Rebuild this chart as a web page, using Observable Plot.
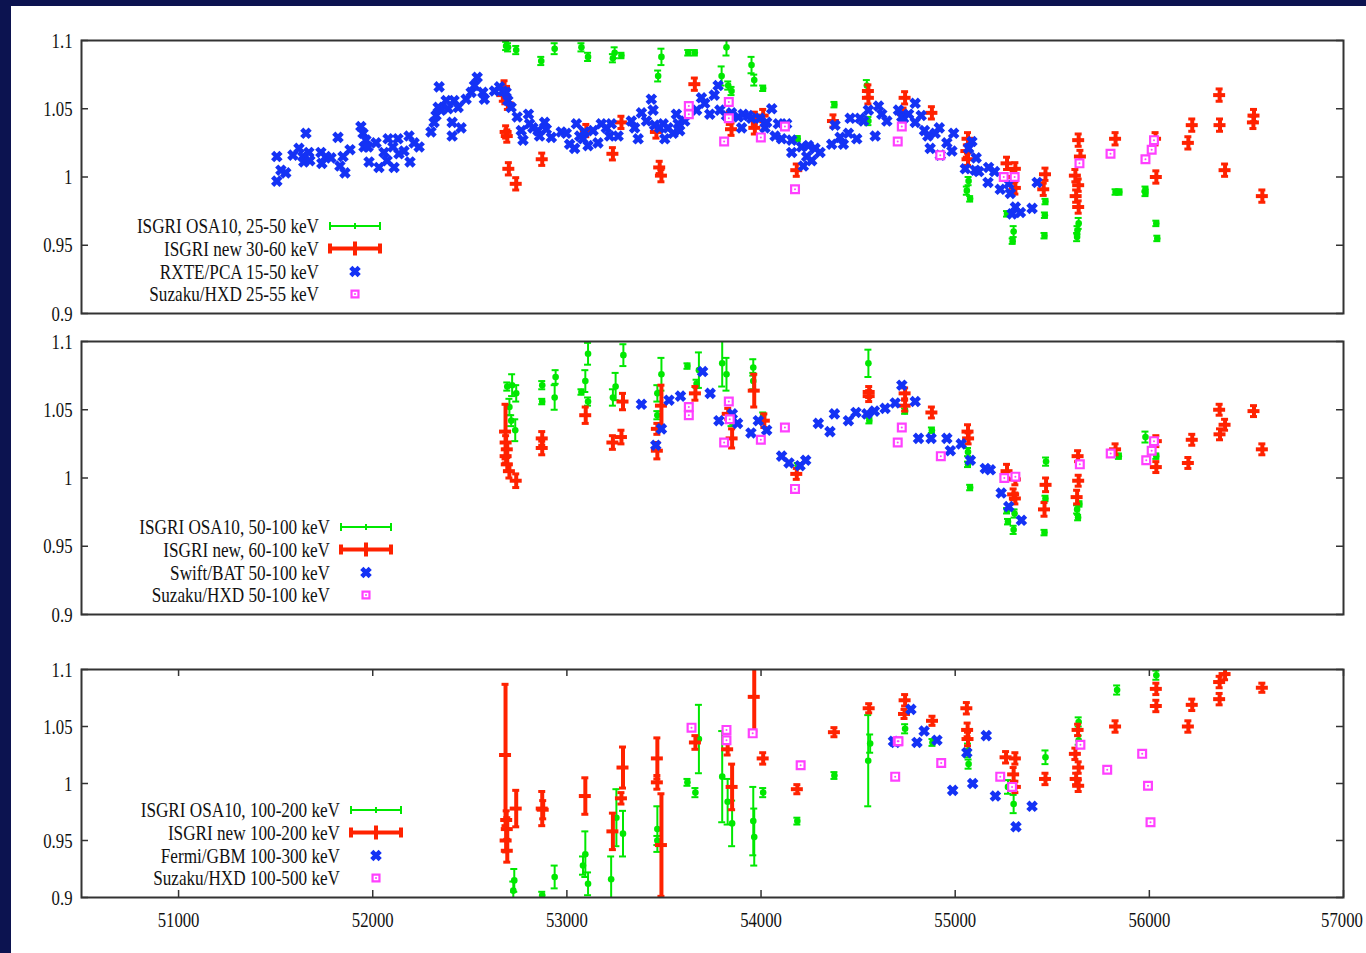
<!DOCTYPE html>
<html>
<head>
<meta charset="utf-8">
<script src="https://cdn.jsdelivr.net/npm/d3@7"></script>
<script src="https://cdn.jsdelivr.net/npm/@observablehq/plot@0.6"></script>
<style>
  html, body { margin: 0; padding: 0; }
  body { width: 1366px; height: 953px; background: #0c1350; position: relative; overflow: hidden; }
  #paper { position: absolute; left: 11px; top: 6px; right: 0; bottom: 0; background: #ffffff; }
  .panel { position: absolute; left: 0; }
  .panel svg { background: transparent !important; overflow: visible; }
</style>
</head>
<body>
<div id="paper"></div>
<div id="p1" class="panel" style="top:0px"></div>
<div id="p2" class="panel" style="top:320px"></div>
<div id="p3" class="panel" style="top:620px"></div>
<script>
// ---------------- data (MJD, ratio[, error]) ----------------
const xDomain = [50500, 57000];
const yDomain = [0.9, 1.1];
const xTicks = [51000, 52000, 53000, 54000, 55000, 56000, 57000];
const xTickLabels = ["51000", "52000", "53000", "54000", "55000", "56000", "57000"];
const yTicks = [0.9, 0.95, 1, 1.05, 1.1];
const yTickLabels = ["0.9", "0.95", "1", "1.05", "1.1"];

const legend1 = ["ISGRI OSA10, 25-50 keV", "ISGRI new 30-60 keV", "RXTE/PCA 15-50 keV", "Suzaku/HXD 25-55 keV"];
const legend2 = ["ISGRI OSA10, 50-100 keV", "ISGRI new, 60-100 keV", "Swift/BAT 50-100 keV", "Suzaku/HXD 50-100 keV"];
const legend3 = ["ISGRI OSA10, 100-200 keV", "ISGRI new 100-200 keV", "Fermi/GBM 100-300 keV", "Suzaku/HXD 100-500 keV"];

// Panel 1
const osa10_25_50 = [[52687,1.096,0.003],[52697,1.095,0.003],[52739,1.093,0.003],[52868,1.085,0.003],[52937,1.094,0.004],[53075,1.095,0.003],[53109,1.088,0.003],[53237,1.087,0.003],[53246,1.091,0.004],[53281,1.089,0.002],[53487,1.088,0.006],[53470,1.074,0.004],[53625,1.091,0.002],[53659,1.091,0.002],[53822,1.095,0.006],[53797,1.074,0.007],[53831,1.067,0.003],[53848,1.063,0.003],[53951,1.082,0.006],[53965,1.071,0.004],[54011,1.065,0.002],[54189,1.028,0.002],[54378,1.053,0.002],[54545,1.067,0.004],[54553,1.041,0.003],[55069,0.997,0.003],[55060,0.990,0.003],[55077,0.984,0.002],[55267,0.973,0.002],[55301,0.960,0.004],[55296,0.953,0.002],[55465,0.982,0.002],[55462,0.972,0.002],[55460,0.957,0.002],[55636,0.966,0.004],[55630,0.961,0.003],[55628,0.956,0.003],[55826,0.989,0.002],[55846,0.989,0.002],[55980,0.991,0.002],[55980,0.988,0.002],[56036,0.966,0.002],[56041,0.955,0.002]];
const isgriNew_30_60 = [[52670,1.060,0.0045],[52679,1.066,0.0045],[52687,1.033,0.0045],[52693,1.030,0.0045],[52696,1.054,0.0045],[52701,1.006,0.0045],[52739,0.995,0.0045],[52873,1.013,0.0045],[53100,1.034,0.0045],[53237,1.017,0.0045],[53281,1.040,0.0045],[53461,1.033,0.0045],[53478,1.007,0.0045],[53487,1.001,0.0045],[53659,1.068,0.0045],[53839,1.043,0.0045],[53848,1.035,0.0045],[53968,1.043,0.0045],[53968,1.036,0.0045],[54011,1.045,0.0045],[54184,1.005,0.0045],[54373,1.041,0.0045],[54553,1.063,0.0045],[54553,1.058,0.0045],[54742,1.058,0.0045],[54734,1.046,0.0045],[54880,1.047,0.0045],[55066,1.028,0.0045],[55060,1.019,0.0045],[55066,1.013,0.0045],[55267,1.010,0.0045],[55310,1.006,0.0045],[55301,1.000,0.0045],[55310,0.992,0.0045],[55465,1.002,0.0045],[55456,0.991,0.0045],[55636,1.027,0.0045],[55645,1.015,0.0045],[55619,1.001,0.0045],[55636,0.994,0.0045],[55623,0.986,0.0045],[55636,0.978,0.0045],[55826,1.028,0.0045],[56032,1.028,0.0045],[56036,1.000,0.0045],[56201,1.025,0.0045],[56221,1.038,0.0045],[56362,1.060,0.0045],[56364,1.038,0.0045],[56390,1.005,0.0045],[56539,1.045,0.0045],[56536,1.040,0.0045],[56582,0.986,0.0045]];
const rxtePca_15_50 = [[51506,1.015],[51506,0.997],[51527,1.005],[51552,1.003],[51589,1.016],[51620,1.021],[51640,1.015],[51645,1.011],[51656,1.032],[51671,1.018],[51676,1.012],[51733,1.018],[51738,1.010],[51759,1.015],[51785,1.014],[51821,1.029],[51831,1.008],[51847,1.015],[51857,1.003],[51883,1.020],[51939,1.037],[51950,1.032],[51955,1.022],[51965,1.027],[51976,1.022],[51981,1.011],[52017,1.025],[52032,1.007],[52058,1.018],[52079,1.028],[52074,1.012],[52104,1.022],[52110,1.007],[52130,1.028],[52135,1.017],[52161,1.019],[52187,1.030],[52192,1.011],[52213,1.025],[52239,1.022],[52300,1.033],[52316,1.040],[52326,1.045],[52342,1.066],[52337,1.051],[52352,1.049],[52378,1.056],[52388,1.050],[52409,1.040],[52409,1.030],[52419,1.056],[52440,1.051],[52455,1.036],[52481,1.057],[52507,1.062],[52524,1.067],[52538,1.073],[52567,1.062],[52575,1.057],[52627,1.063],[52653,1.066],[52670,1.063],[52687,1.062],[52696,1.056],[52713,1.051],[52744,1.044],[52765,1.034],[52774,1.027],[52802,1.046],[52808,1.039],[52825,1.036],[52851,1.034],[52859,1.030],[52885,1.040],[52894,1.035],[52920,1.029],[52971,1.033],[52997,1.032],[53014,1.024],[53040,1.021],[53049,1.039],[53066,1.030],[53083,1.028],[53091,1.033],[53109,1.023],[53135,1.034],[53160,1.025],[53177,1.039],[53203,1.036],[53220,1.030],[53229,1.039],[53264,1.030],[53332,1.041],[53349,1.036],[53367,1.028],[53384,1.047],[53410,1.041],[53435,1.057],[53444,1.049],[53452,1.038],[53478,1.036],[53496,1.039],[53504,1.028],[53521,1.036],[53547,1.032],[53564,1.046],[53573,1.039],[53581,1.034],[53607,1.041],[53668,1.049],[53693,1.058],[53710,1.054],[53736,1.046],[53759,1.060],[53779,1.067],[53788,1.049],[53822,1.045],[53848,1.047],[53883,1.044],[53900,1.036],[53908,1.046],[53934,1.045],[53951,1.043],[53994,1.043],[54020,1.036],[54055,1.050],[54029,1.040],[54072,1.030],[54089,1.039],[54106,1.028],[54132,1.039],[54158,1.027],[54158,1.018],[54209,1.022],[54218,1.008],[54235,1.015],[54244,1.023],[54261,1.012],[54278,1.021],[54304,1.018],[54364,1.024],[54381,1.038],[54407,1.029],[54424,1.024],[54450,1.032],[54459,1.043],[54493,1.028],[54510,1.043],[54528,1.041],[54553,1.049],[54588,1.030],[54605,1.052],[54622,1.046],[54648,1.041],[54708,1.049],[54725,1.044],[54734,1.043],[54760,1.046],[54794,1.054],[54794,1.040],[54825,1.045],[54842,1.034],[54859,1.030],[54871,1.021],[54897,1.032],[54918,1.036],[54923,1.016],[54957,1.025],[54983,1.019],[54992,1.032],[55052,1.006],[55086,1.026],[55069,1.021],[55103,1.005],[55108,1.014],[55121,1.004],[55172,1.007],[55169,0.996],[55203,1.004],[55232,0.991],[55276,0.995],[55284,0.988],[55293,0.973],[55310,0.978],[55336,0.974],[55396,0.977],[55422,0.996]];
const suzaku_25_55 = [[53628,1.052],[53628,1.046],[53810,1.026],[53834,1.055],[53834,1.043],[53999,1.029],[54123,1.037],[54175,0.991],[54704,1.026],[54725,1.037],[54923,1.016],[55250,1.000],[55306,1.000],[55640,1.010],[55800,1.017],[55980,1.013],[56012,1.020],[56024,1.027]];

// Panel 2
const osa10_50_100 = [[52693,1.067,0.003],[52718,1.068,0.008],[52739,1.062,0.006],[52704,1.052,0.006],[52713,1.042,0.004],[52734,1.035,0.008],[52873,1.068,0.003],[52873,1.056,0.002],[52937,1.059,0.009],[52942,1.074,0.005],[53075,1.063,0.002],[53095,1.071,0.008],[53109,1.056,0.003],[53109,1.091,0.008],[53251,1.067,0.01],[53237,1.059,0.006],[53291,1.090,0.008],[53466,1.062,0.006],[53466,1.046,0.003],[53487,1.076,0.012],[53621,1.082,0.002],[53680,1.079,0.013],[53668,1.069,0.003],[53800,1.084,0.017],[53822,1.076,0.012],[53960,1.081,0.006],[53960,1.071,0.006],[54011,1.046,0.002],[53848,1.041,0.003],[54553,1.084,0.01],[54558,1.042,0.002],[54189,1.009,0.002],[54880,1.035,0.002],[54742,1.049,0.002],[55066,1.019,0.003],[55066,1.010,0.002],[55077,0.993,0.002],[55267,0.976,0.002],[55272,0.968,0.002],[55301,0.962,0.003],[55306,0.974,0.003],[55468,1.012,0.003],[55465,0.985,0.002],[55460,0.960,0.002],[55628,0.977,0.003],[55633,0.971,0.002],[55640,0.981,0.002],[55843,1.016,0.002],[55980,1.030,0.004],[56036,1.016,0.002]];
const isgriNew_60_100 = [[52684,1.034,0.02],[52687,1.026,0.005],[52693,1.021,0.005],[52687,1.016,0.005],[52693,1.010,0.005],[52704,1.005,0.005],[52739,0.998,0.005],[52873,1.029,0.005],[52873,1.022,0.005],[53097,1.046,0.006],[53237,1.026,0.005],[53281,1.030,0.005],[53289,1.056,0.006],[53487,1.053,0.015],[53466,1.036,0.004],[53466,1.020,0.006],[53662,1.062,0.005],[53831,1.047,0.004],[53851,1.029,0.007],[53965,1.064,0.012],[54017,1.042,0.005],[54184,1.003,0.004],[54557,1.063,0.004],[54557,1.060,0.004],[54742,1.062,0.004],[54742,1.053,0.004],[54880,1.048,0.004],[55066,1.034,0.005],[55069,1.029,0.004],[55267,1.005,0.005],[55310,0.999,0.004],[55301,0.988,0.004],[55310,0.985,0.004],[55468,0.995,0.005],[55460,0.977,0.005],[55633,1.016,0.004],[55636,0.998,0.004],[55628,0.986,0.005],[55826,1.021,0.004],[56036,1.027,0.004],[56036,1.008,0.004],[56201,1.011,0.004],[56221,1.028,0.004],[56362,1.050,0.004],[56364,1.032,0.004],[56390,1.039,0.004],[56539,1.049,0.004],[56582,1.021,0.004]];
const swiftBat_50_100 = [[53384,1.054],[53458,1.024],[53487,1.036],[53526,1.057],[53585,1.060],[53699,1.078],[53738,1.062],[53783,1.042],[53852,1.047],[53879,1.040],[53948,1.033],[53986,1.042],[54029,1.035],[54106,1.016],[54144,1.011],[54201,1.009],[54230,1.013],[54295,1.040],[54355,1.034],[54378,1.047],[54450,1.042],[54489,1.048],[54545,1.047],[54584,1.049],[54639,1.051],[54691,1.055],[54725,1.068],[54794,1.056],[54811,1.029],[54876,1.029],[54957,1.029],[54975,1.020],[55031,1.025],[55078,1.013],[55155,1.007],[55181,1.006],[55237,0.989],[55276,0.979],[55341,0.969]];
const suzaku_50_100 = [[53628,1.052],[53628,1.046],[53810,1.026],[53834,1.056],[53839,1.043],[53999,1.028],[54123,1.037],[54175,0.992],[54704,1.026],[54725,1.037],[54926,1.016],[55253,1.000],[55310,1.001],[55642,1.010],[55801,1.018],[55984,1.013],[56012,1.020],[56024,1.027]];

// Panel 3
const osa10_100_200 = [[52729,0.915,0.01],[52724,0.906,0.008],[52873,0.902,0.003],[52937,0.918,0.01],[53083,0.928,0.008],[53095,0.938,0.02],[53109,0.912,0.01],[53228,0.916,0.02],[53255,0.970,0.025],[53289,0.956,0.02],[53466,0.960,0.02],[53466,0.950,0.004],[53621,1.001,0.003],[53662,0.992,0.004],[53680,1.039,0.03],[53800,1.006,0.04],[53828,0.984,0.02],[53851,0.965,0.02],[53960,0.967,0.03],[53965,0.953,0.025],[54011,0.992,0.004],[54187,0.967,0.003],[54378,1.007,0.003],[54552,1.020,0.04],[54562,1.035,0.008],[54742,1.048,0.004],[54883,1.036,0.003],[55066,1.029,0.006],[55069,1.017,0.004],[55272,0.997,0.006],[55301,0.982,0.008],[55465,1.023,0.006],[55636,1.054,0.004],[55636,1.038,0.004],[55834,1.082,0.004],[56036,1.095,0.004]];
const isgriNew_100_200 = [[52684,1.025,0.062],[52690,0.968,0.008],[52693,0.960,0.01],[52687,0.950,0.01],[52693,0.941,0.01],[52739,0.978,0.016],[52873,0.978,0.015],[52878,0.977,0.008],[53095,0.989,0.016],[53237,0.958,0.016],[53281,0.987,0.005],[53289,1.014,0.018],[53466,1.022,0.018],[53466,1.001,0.006],[53487,0.946,0.045],[53662,1.036,0.006],[53828,1.030,0.005],[53851,0.997,0.02],[53965,1.076,0.03],[54011,1.022,0.005],[54187,0.995,0.004],[54378,1.045,0.004],[54557,1.066,0.004],[54742,1.073,0.005],[54739,1.061,0.004],[54883,1.055,0.004],[55060,1.066,0.005],[55064,1.047,0.006],[55066,1.039,0.006],[55262,1.023,0.005],[55310,1.022,0.005],[55301,1.008,0.006],[55310,0.997,0.005],[55465,1.004,0.005],[55633,1.047,0.005],[55619,1.026,0.005],[55636,1.014,0.005],[55623,1.004,0.005],[55636,0.998,0.005],[55826,1.050,0.005],[56036,1.083,0.005],[56036,1.068,0.005],[56201,1.050,0.005],[56221,1.069,0.005],[56362,1.074,0.005],[56362,1.089,0.005],[56390,1.096,0.005],[56582,1.084,0.004]];
const fermiGbm_100_300 = [[54682,1.037],[54691,1.036],[54772,1.065],[54803,1.036],[54840,1.046],[54906,1.038],[54987,0.994],[55060,1.027],[55090,1.000],[55160,1.042],[55207,0.989],[55313,0.962],[55396,0.980]];
const suzaku_100_500 = [[53642,1.049],[53822,1.047],[53822,1.038],[53957,1.044],[54204,1.016],[54691,1.006],[54704,1.037],[54708,1.037],[54928,1.018],[55232,1.006],[55293,0.997],[55645,1.034],[55783,1.012],[55963,1.026],[55993,0.998],[56006,0.966]];

// ---------------- styling ----------------
const GREEN = "#00e800", RED = "#ff2200", BLUE = "#1432f5", MAGENTA = "#ff40ff", INK = "#333333";
const FONT = "'Liberation Serif', 'Times New Roman', serif";
const W = 1366, ML = 81, MR = 23;

function panel(el, cfg) {
  const {green, red, blue, magenta, labels, height, marginTop, marginBottom, showX, legendRight} = cfg;
  const innerH = height - marginTop - marginBottom;
  const dpx = (xDomain[1] - xDomain[0]) / (W - ML - MR); // days per px
  const vpx = (yDomain[1] - yDomain[0]) / innerH;       // ratio per px
  const X = d => d[0], Y = d => d[1];
  const marks = [
    Plot.ruleX(green, {x: X, y1: d => d[1] - d[2], y2: d => d[1] + d[2], stroke: GREEN, strokeWidth: 2, clip: true}),
    Plot.ruleY(green, {y: d => d[1] - d[2], x1: d => d[0] - 3.5 * dpx, x2: d => d[0] + 3.5 * dpx, stroke: GREEN, strokeWidth: 2, clip: true}),
    Plot.ruleY(green, {y: d => d[1] + d[2], x1: d => d[0] - 3.5 * dpx, x2: d => d[0] + 3.5 * dpx, stroke: GREEN, strokeWidth: 2, clip: true}),
    Plot.dot(green, {x: X, y: Y, r: 3.3, fill: GREEN, clip: true}),
    Plot.ruleX(red, {x: X, y1: d => d[1] - d[2], y2: d => d[1] + d[2], stroke: RED, strokeWidth: 4, clip: true}),
    Plot.ruleY(red, {y: Y, x1: d => d[0] - 6 * dpx, x2: d => d[0] + 6 * dpx, stroke: RED, strokeWidth: 4, clip: true}),
    Plot.ruleY(red, {y: d => d[1] - d[2], x1: d => d[0] - 3.5 * dpx, x2: d => d[0] + 3.5 * dpx, stroke: RED, strokeWidth: 3, clip: true}),
    Plot.ruleY(red, {y: d => d[1] + d[2], x1: d => d[0] - 3.5 * dpx, x2: d => d[0] + 3.5 * dpx, stroke: RED, strokeWidth: 3, clip: true}),
    Plot.dot(blue, {x: X, y: Y, symbol: "times", r: 3.9, stroke: BLUE, strokeWidth: 4.5, clip: true}),
    Plot.dot(magenta, {x: X, y: Y, symbol: "square", r: 4.4, stroke: MAGENTA, strokeWidth: 2.2, fill: "white", clip: true}),
    Plot.dot(magenta, {x: X, y: Y, r: 1, fill: MAGENTA, clip: true}),
    Plot.ruleY(yTicks, {y: d => d, x1: xDomain[0], x2: xDomain[0] + 7 * dpx, stroke: INK, strokeWidth: 1.5}),
    Plot.ruleY(yTicks, {y: d => d, x1: xDomain[1] - 7 * dpx, x2: xDomain[1], stroke: INK, strokeWidth: 1.5}),
    Plot.axisY(yTicks, {anchor: "left", tickSize: 0, tickPadding: 9, tickFormat: d => yTickLabels[yTicks.indexOf(d)], fontSize: 22, fill: "#111"}),
    Plot.frame({stroke: INK, strokeWidth: 2})
  ];
  if (showX) {
    marks.push(
      Plot.ruleX(xTicks, {x: d => d, y1: yDomain[0], y2: yDomain[0] + 7 * vpx, stroke: INK, strokeWidth: 1.5}),
      Plot.ruleX(xTicks, {x: d => d, y1: yDomain[1] - 7 * vpx, y2: yDomain[1], stroke: INK, strokeWidth: 1.5}),
      Plot.axisX(xTicks, {anchor: "bottom", tickSize: 0, tickPadding: 14, tickFormat: d => xTickLabels[xTicks.indexOf(d)], fontSize: 22, fill: "#111"})
    );
  }
  const svg = Plot.plot({
    width: W, height, marginLeft: ML, marginRight: MR, marginTop, marginBottom,
    style: {fontFamily: FONT, fontSize: "22px", background: "transparent", color: "#111"},
    x: {domain: xDomain, axis: null},
    y: {domain: yDomain, axis: null},
    marks
  });
  el.appendChild(svg);

  // legend (gnuplot style key inside the frame, lower left)
  const s = d3.select(svg);
  const fb = height - marginBottom;
  const rows = [fb - 87, fb - 64.5, fb - 41.5, fb - 19];
  const cx = legendRight + 36;
  const g = s.append("g").attr("font-family", FONT).attr("font-size", 22).attr("class", "key");
  labels.forEach((lab, i) => {
    g.append("text").attr("x", legendRight).attr("y", rows[i]).attr("dy", "0.32em")
      .attr("text-anchor", "end").attr("fill", "#111").text(lab);
  });
  let y = rows[0];
  g.append("path").attr("d", `M${cx-25},${y}H${cx+25}M${cx-25},${y-4}V${y+4}M${cx+25},${y-4}V${y+4}M${cx},${y-3}V${y+3}`)
    .attr("stroke", GREEN).attr("stroke-width", 2).attr("fill", "none");
  y = rows[1];
  g.append("path").attr("d", `M${cx-25},${y}H${cx+25}M${cx-25},${y-5}V${y+5}M${cx+25},${y-5}V${y+5}M${cx},${y-7}V${y+7}`)
    .attr("stroke", RED).attr("stroke-width", 4).attr("fill", "none");
  g.append("path").attr("transform", `translate(${cx},${rows[2]})`)
    .attr("d", d3.symbol(d3.symbolTimes, Math.PI * 3.9 * 3.9)())
    .attr("stroke", BLUE).attr("stroke-width", 4.5).attr("fill", "none");
  g.append("path").attr("transform", `translate(${cx},${rows[3]})`)
    .attr("d", d3.symbol(d3.symbolSquare2, Math.PI * 4.4 * 4.4)())
    .attr("stroke", MAGENTA).attr("stroke-width", 2.2).attr("fill", "white");
  g.append("circle").attr("cx", cx).attr("cy", rows[3]).attr("r", 1).attr("fill", MAGENTA);
  return svg;
}

panel(document.getElementById("p1"), {green: osa10_25_50, red: isgriNew_30_60, blue: rxtePca_15_50, magenta: suzaku_25_55,
  labels: legend1, height: 320, marginTop: 40, marginBottom: 7, showX: false, legendRight: 319});
panel(document.getElementById("p2"), {green: osa10_50_100, red: isgriNew_60_100, blue: swiftBat_50_100, magenta: suzaku_50_100,
  labels: legend2, height: 300, marginTop: 21, marginBottom: 6, showX: false, legendRight: 330});
panel(document.getElementById("p3"), {green: osa10_100_200, red: isgriNew_100_200, blue: fermiGbm_100_300, magenta: suzaku_100_500,
  labels: legend3, height: 333, marginTop: 49, marginBottom: 56, showX: true, legendRight: 340});

// gnuplot-like narrow serif: compress glyphs horizontally; keep texts inside the page
document.querySelectorAll("svg text").forEach(t => {
  const L = t.getComputedTextLength();
  if (L > 0) {
    const k = t.closest("g.key") ? 0.78 : 0.76;
    const Lk = L * k;
    t.setAttribute("textLength", Lk.toFixed(1));
    t.setAttribute("lengthAdjust", "spacingAndGlyphs");
    const r = t.getBoundingClientRect();
    if (r.right > 1360) {
      // anchor the last label at its right end so it ends inside the page
      t.setAttribute("text-anchor", "end");
      t.setAttribute("dx", (Lk / 2 - 1.5).toFixed(1));
    }
  }
});
</script>
</body>
</html>
